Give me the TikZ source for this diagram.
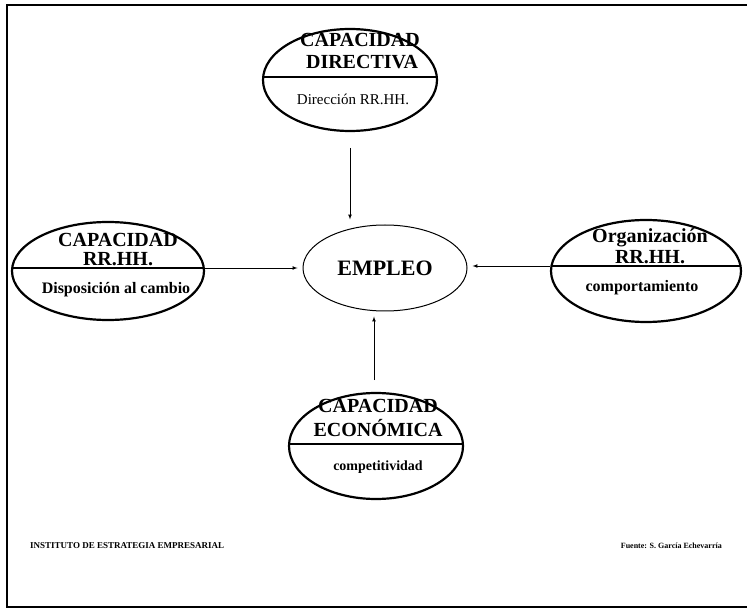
\documentclass[tikz,border=0pt]{standalone}
\usepackage{fontspec}
\setmainfont{Liberation Serif}
\usetikzlibrary{arrows,shapes,positioning}

\begin{document}
\begin{tikzpicture}[x=1pt,y=-1pt,
  capa/.style={ellipse,draw,line width=2.2pt,minimum width=#1,inner sep=0pt},
  capa/.default=174pt,
  split/.style={path picture={\draw[line width=1.1pt]
     ([yshift=#1]path picture bounding box.west) -- ([yshift=#1]path picture bounding box.east);}},
  title/.style={font=\bfseries\fontsize{20}{22}\selectfont,inner sep=0pt},
  sub/.style={font=\bfseries\fontsize{#1}{17}\selectfont,inner sep=0pt},
  sub/.default=14,
  flecha/.style={-latex,line width=0.7pt,shorten >=5pt},
  pie/.style={font=\bfseries\fontsize{#1}{10}\selectfont,inner sep=0pt}]
\useasboundingbox (0,0) rectangle (747,612);
\draw[line width=2.5pt] (760,5) -- (7,5) -- (7,607) -- (760,607);

\node[capa,split=3pt,minimum height=102pt] (dir) at (350,80) {};
\node[title] (dirA) at (360,40) {CAPACIDAD};
\node[title] (dirB) at (362,62) {DIRECTIVA};
\node[font=\fontsize{15}{17}\selectfont,inner sep=0pt] (dirC) at (353,99) {Dirección RR.HH.};

\node[ellipse,draw,line width=1pt,minimum width=164pt,minimum height=86pt] (emp) at (385,268)
  {\bfseries\fontsize{22}{24}\selectfont EMPLEO};

\node[capa=192pt,split=3pt,minimum height=98pt] (rh) at (108,271) {};
\node[title] (rhA) at (118,240) {CAPACIDAD};
\node[title] (rhB) at (118,259) {RR.HH.};
\node[sub=16] (rhC) at (116,290) {Disposición al cambio};

\node[capa=190pt,split=5pt,minimum height=102pt] (org) at (646,271) {};
\node[title] (orgA) at (650,238) {Organización};
\node[title] (orgB) at (650,257) {RR.HH.};
\node[sub=16] (orgC) at (642,288) {comportamiento};

\node[capa,split=2pt,minimum height=106pt] (eco) at (376,446) {};
\node[title] (ecoA) at (378,406) {CAPACIDAD};
\node[title] (ecoB) at (378,428) {ECONÓMICA};
\node[sub] (ecoC) at (378,467) {competitividad};

\coordinate (dirS) at (350,148);
\coordinate (ecoN) at (374,380);
\coordinate (rhE) at ([yshift=3pt]rh.east);
\coordinate (orgW) at ([yshift=5pt]org.west);
\draw[flecha] (dirS) -- (dirS |- emp.north);
\draw[flecha] (rhE) -- (rhE -| emp.west);
\draw[flecha] (orgW) -- (orgW -| emp.east);
\draw[flecha] (ecoN) -- (ecoN |- emp.south);

\node[pie=9,anchor=west] (inst) at (30,546) {INSTITUTO DE ESTRATEGIA EMPRESARIAL};
\node[pie=8,anchor=east] (fuente) at (722,546) {Fuente: S. García Echevarría};
\end{tikzpicture}
\end{document}
